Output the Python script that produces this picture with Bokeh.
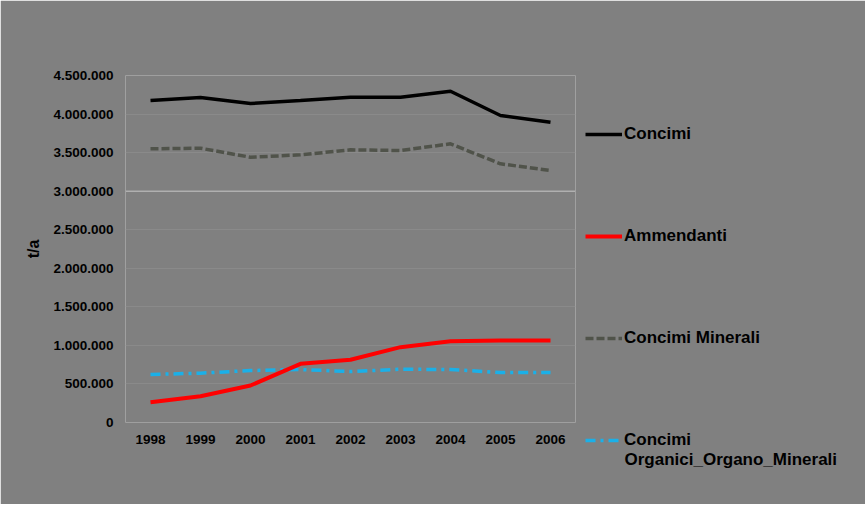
from bokeh.plotting import figure
from bokeh.models import Range1d, FactorRange, FixedTicker, Legend, LegendItem, Span, Title
from bokeh.embed import file_html
from bokeh.resources import INLINE

years = ["1998", "1999", "2000", "2001", "2002", "2003", "2004", "2005", "2006"]
concimi = [4175000, 4215000, 4137000, 4175000, 4218000, 4218000, 4296000, 3981000, 3895000]
ammendanti = [263000, 341000, 480000, 761000, 813000, 977000, 1054000, 1063000, 1063000]
concimi_minerali = [3549000, 3557000, 3440000, 3471000, 3536000, 3527000, 3614000, 3355000, 3268000]
concimi_organici = [622000, 640000, 674000, 687000, 661000, 691000, 687000, 648000, 648000]

y_ticks = [0, 500000, 1000000, 1500000, 2000000, 2500000, 3000000, 3500000, 4000000, 4500000]
y_tick_labels = ["0", "500.000", "1.000.000", "1.500.000", "2.000.000", "2.500.000",
                 "3.000.000", "3.500.000", "4.000.000", "4.500.000"]
legend_labels = ["Concimi", "Ammendanti", "Concimi Minerali", "Concimi", "Organici_Organo_Minerali"]

BG = "#808080"
FONT = "Liberation Sans"

p = figure(width=849, height=504, frame_width=450, frame_height=347,
           x_range=FactorRange(*years), y_range=Range1d(0, 4500000),
           output_backend="svg", toolbar_location=None,
           min_border_left=125, min_border_right=274, min_border_top=75, min_border_bottom=82)
p.background_fill_color = BG
p.border_fill_color = BG
p.outline_line_color = None

p.xgrid.grid_line_color = None
p.ygrid.grid_line_color = "#8a8a8a"
p.ygrid.grid_line_width = 1
p.yaxis.ticker = FixedTicker(ticks=y_ticks)
p.yaxis.major_label_overrides = {t: l for t, l in zip(y_ticks, y_tick_labels)}

for ax in (p.xaxis[0], p.yaxis[0]):
    ax.axis_line_color = None
    ax.major_tick_line_color = None
    ax.minor_tick_line_color = None
    ax.major_tick_out = 0
    ax.major_tick_in = 0
    ax.major_label_text_font = FONT
    ax.major_label_text_font_style = "bold"
    ax.major_label_text_font_size = "13.5px"
    ax.major_label_text_color = "black"
p.yaxis.major_label_standoff = 12
p.xaxis.major_label_standoff = 12
p.yaxis.axis_label = "t/a"
p.yaxis.axis_label_text_font = FONT
p.yaxis.axis_label_text_font_style = "bold"
p.yaxis.axis_label_text_font_size = "16px"
p.yaxis.axis_label_text_color = "black"
p.yaxis.axis_label_standoff = 8

p.add_layout(Span(location=3000000, dimension="width", line_color="#c4c4c4", line_width=1))

r_org = p.line(years, concimi_organici, line_color="#1ab0e8", line_width=3.5, line_dash="10 5 3 5")
r_min = p.line(years, concimi_minerali, line_color="#50534a", line_width=3.5, line_dash="8 3")
r_amm = p.line(years, ammendanti, line_color="#ff0000", line_width=4)
r_con = p.line(years, concimi, line_color="black", line_width=3.5)

legend = Legend(items=[LegendItem(label=legend_labels[0], renderers=[r_con]),
                       LegendItem(label=legend_labels[1], renderers=[r_amm]),
                       LegendItem(label=legend_labels[2], renderers=[r_min]),
                       LegendItem(label=legend_labels[3], renderers=[r_org])],
                location="top_left", margin=10, padding=0, spacing=4,
                glyph_width=37, glyph_height=98, label_height=98, label_standoff=2,
                label_text_font=FONT, label_text_font_style="bold",
                label_text_font_size="17px", label_text_color="black",
                background_fill_alpha=0, border_line_alpha=0)
p.add_layout(legend, "right")

t2 = Title(text=legend_labels[4], align="left", offset=499, standoff=2,
           text_font=FONT, text_font_style="bold", text_font_size="17px", text_color="black")
p.add_layout(t2, "below")

html = file_html(p, INLINE)
html = html.replace("<body>", '<body style="background:#808080">', 1)
open("out.html", "w").write(html)
